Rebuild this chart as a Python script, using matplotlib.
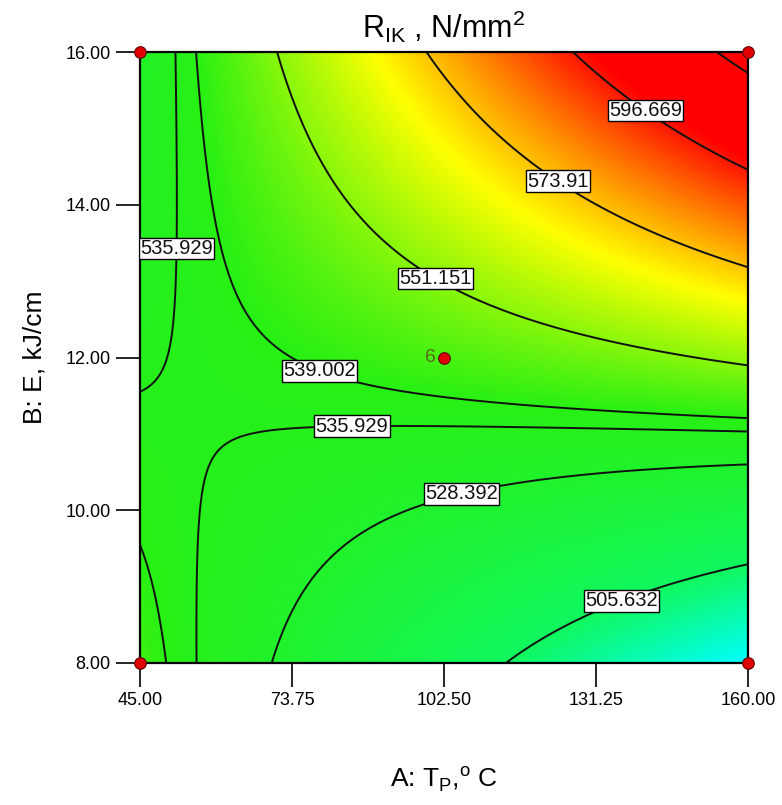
import numpy as np
import matplotlib
matplotlib.use("Agg")
import matplotlib.pyplot as plt
from matplotlib.colors import LinearSegmentedColormap

plt.rcParams['font.family'] = ['Liberation Sans', 'DejaVu Sans']

# factor ranges
a_range = [45.0, 160.0]
b_range = [8.0, 16.0]
a_ticks = [45.0, 73.75, 102.5, 131.25, 160.0]
b_ticks = [8.0, 10.0, 12.0, 14.0, 16.0]

# quadratic model in coded units
b0 = 543.2
bA = 8.838
bB = 32.53
bAB = 38.035
bAA = 0.937
bBB = 0.873

# contour levels shown in the plot
levels = [505.632, 528.392, 535.929, 539.002, 551.151, 573.91, 596.669, 619.428]
level_text = {505.632: "505.632", 528.392: "528.392", 535.929: "535.929", 539.002: "539.002",
              551.151: "551.151", 573.91: "573.91", 596.669: "596.669", 619.428: "619.428"}
# where the labels sit (A, B)
label_pos = [(52.6, 13.43), (101.7, 13.14), (125.8, 14.50), (142.8, 15.45),
             (79.4, 11.90), (85.1, 11.18), (105.5, 10.30), (135.6, 8.90)]

# design points
design_a = [45.0, 45.0, 160.0, 160.0, 102.5]
design_b = [8.0, 16.0, 8.0, 16.0, 12.0]

a = np.linspace(a_range[0], a_range[1], 240)
b = np.linspace(b_range[0], b_range[1], 240)
AA, BB = np.meshgrid(a, b)
x = (AA - 102.5) / 57.5
y = (BB - 12.0) / 4.0
Z = b0 + bA * x + bB * y + bAB * x * y + bAA * x ** 2 + bBB * y ** 2

vmin, vmax = 483.0, 605.0
nodes = [(483, "#00ffff"), (505, "#10f860"), (539, "#28f014"), (566, "#ffff00"), (600, "#ff0000"), (605, "#ff0000")]
cmap = LinearSegmentedColormap.from_list(
    "dx", [((v - vmin) / (vmax - vmin), c) for v, c in nodes])

fig = plt.figure(figsize=(7.82, 8.05), dpi=100)
ax = fig.add_axes([0.1790, 0.1764, 0.7775, 0.7590])
ax.imshow(Z, origin="lower", extent=[a_range[0], a_range[1], b_range[0], b_range[1]],
          aspect="auto", cmap=cmap, vmin=vmin, vmax=vmax, interpolation="bilinear")
cs = ax.contour(AA, BB, Z, levels=levels, colors="#111111", linewidths=1.4)
labels = ax.clabel(cs, levels=[l for l in levels if l != 619.428], inline=False,
                   fmt=level_text, manual=label_pos, fontsize=14.5)
for t in labels:
    t.set_rotation(0)
    t.set_bbox(dict(facecolor="white", edgecolor="black", pad=0.8, linewidth=1))
    t.set_zorder(5)

ax.scatter(design_a, design_b, s=70, c="#e00000", edgecolors="#600000", linewidths=0.8,
           zorder=6, clip_on=False)
ax.text(101.0, 12.0, "6", color="#5a6a10", fontsize=14, ha="right", va="center", zorder=6)

ax.set_xlim(a_range)
ax.set_ylim(b_range)
ax.set_xticks(a_ticks)
ax.set_yticks(b_ticks)
ax.set_xticklabels(["%.2f" % v for v in a_ticks])
ax.set_yticklabels(["%.2f" % v for v in b_ticks])
ax.tick_params(direction="out", length=17, width=1.2, labelsize=13, pad=4)
for s in ax.spines.values():
    s.set_linewidth(1.6)

ax.set_title("R$_{\\mathregular{IK}}$ , N/mm$^{\\mathregular{2}}$", fontsize=22, pad=10)
ax.set_xlabel("A: T$_{\\mathregular{P}}$,$^{\\mathregular{o}}$ C", fontsize=19, labelpad=40)
ax.set_ylabel("B: E, kJ/cm", fontsize=19, labelpad=14)

fig.savefig("out.png")
